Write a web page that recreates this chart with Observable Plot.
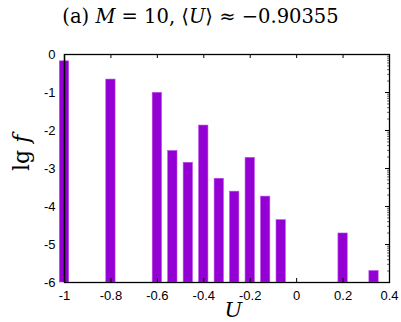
<!DOCTYPE html>
<html>
<head>
<meta charset="utf-8">
<script src="https://cdn.jsdelivr.net/npm/d3@7"></script>
<script src="https://cdn.jsdelivr.net/npm/@observablehq/plot@0.6"></script>
<style>
  html, body { margin: 0; padding: 0; background: #fff; }
  #title { width: 401px; height: 30px; text-align: center; font-family: "DejaVu Serif", "Liberation Serif", serif; font-size: 19.5px; line-height: 34px; color: #000; white-space: nowrap; }
  #title i { font-style: italic; }
  svg { display: block; }
</style>
</head>
<body>
<div id="title">(a) <i>M</i> = 10, ⟨<i>U</i>⟩ ≈ −0.90355</div>
<div id="chart"></div>
<script>
// Bar positions (U) and heights (lg f)
const uValues = [-1, -0.8, -0.6, -8/15, -7/15, -0.4, -1/3, -4/15, -0.2, -2/15, -1/15, 0.2, 1/3];
const lgF     = [-0.18, -0.66, -1.01, -2.54, -2.85, -1.87, -3.27, -3.61, -2.72, -3.74, -4.36, -4.71, -5.70];
const xTicks  = [-1, -0.8, -0.6, -0.4, -0.2, 0, 0.2, 0.4];
const yTicks  = [0, -1, -2, -3, -4, -5, -6];

const data = uValues.map((u, i) => ({u, v: lgF[i]}));

const W = 401, H = 292;
const mL = 64, mR = 12, mT = 24, mB = 40;
const pxY = 6 / (H - mT - mB);       // y units per pixel
const pxX = 1.4 / (W - mL - mR);     // x units per pixel
const halfW = 0.02;
const fmt = d => String(+d.toFixed(1));

// inward tick marks (mirror ticks), computed in data units
const topTicks = xTicks.filter(t => t > -1 && t < 0.4);
const rightMajor = yTicks.filter(t => t < 0 && t > -6);
const rightMinor = [];
for (let n = -6; n < 0; n++) for (let k = 2; k <= 9; k++) rightMinor.push(n + Math.log10(k));

const chart = Plot.plot({
  width: W, height: H,
  marginLeft: mL, marginRight: mR, marginTop: mT, marginBottom: mB,
  style: { fontFamily: "'Liberation Sans', Arial, sans-serif", fontSize: "13px", color: "#000", background: "#fff" },
  x: { domain: [-1, 0.4] },
  y: { domain: [-6, 0] },
  marks: [
    Plot.rect(data, { x1: d => d.u - halfW, x2: d => d.u + halfW, y1: -6, y2: "v", fill: "#9400d3", stroke: "#b84ce6", strokeWidth: 0.6 }),
    Plot.ruleX(topTicks, { x: d => d, y1: 0, y2: -4 * pxY, stroke: "#000" }),
    Plot.ruleX(topTicks, { x: d => d, y1: -6, y2: -6 + 4 * pxY, stroke: "#000" }),
    Plot.ruleY(rightMajor, { y: d => d, x1: 0.4, x2: 0.4 - 4 * pxX, stroke: "#000" }),
    Plot.ruleY(rightMinor, { y: d => d, x1: 0.4, x2: 0.4 - 2 * pxX, stroke: "#000", strokeWidth: 0.6 }),
    Plot.frame({ stroke: "#000", strokeWidth: 1.3 }),
    Plot.ruleX([-1], { stroke: "#000", strokeWidth: 1.3 }),
    Plot.axisX({ ticks: xTicks, tickSize: 0, tickPadding: 8, tickFormat: fmt, label: null, fontSize: 13 }),
    Plot.axisY({ ticks: yTicks, tickSize: 0, tickPadding: 9, tickFormat: fmt, label: null, fontSize: 13 })
  ]
});
document.getElementById("chart").appendChild(chart);

// axis labels with mixed upright/italic serif text
const svg = d3.select(chart);
const xs = chart.scale("x"), ys = chart.scale("y");
const yLab = ys.apply(-2.6);
const yl = svg.append("text")
  .attr("transform", `translate(29,${yLab}) rotate(-90)`)
  .attr("text-anchor", "middle")
  .attr("font-family", "'DejaVu Serif', 'Liberation Serif', serif")
  .attr("font-size", 22)
  .attr("fill", "#000");
yl.append("tspan").text("lg ");
yl.append("tspan").attr("font-style", "italic").text("f");

svg.append("text")
  .attr("x", xs.apply(-0.27))
  .attr("y", ys.apply(-6) + 35)
  .attr("text-anchor", "middle")
  .attr("font-family", "'DejaVu Serif', 'Liberation Serif', serif")
  .attr("font-style", "italic")
  .attr("font-size", 21)
  .attr("fill", "#000")
  .text("U");
</script>
</body>
</html>
